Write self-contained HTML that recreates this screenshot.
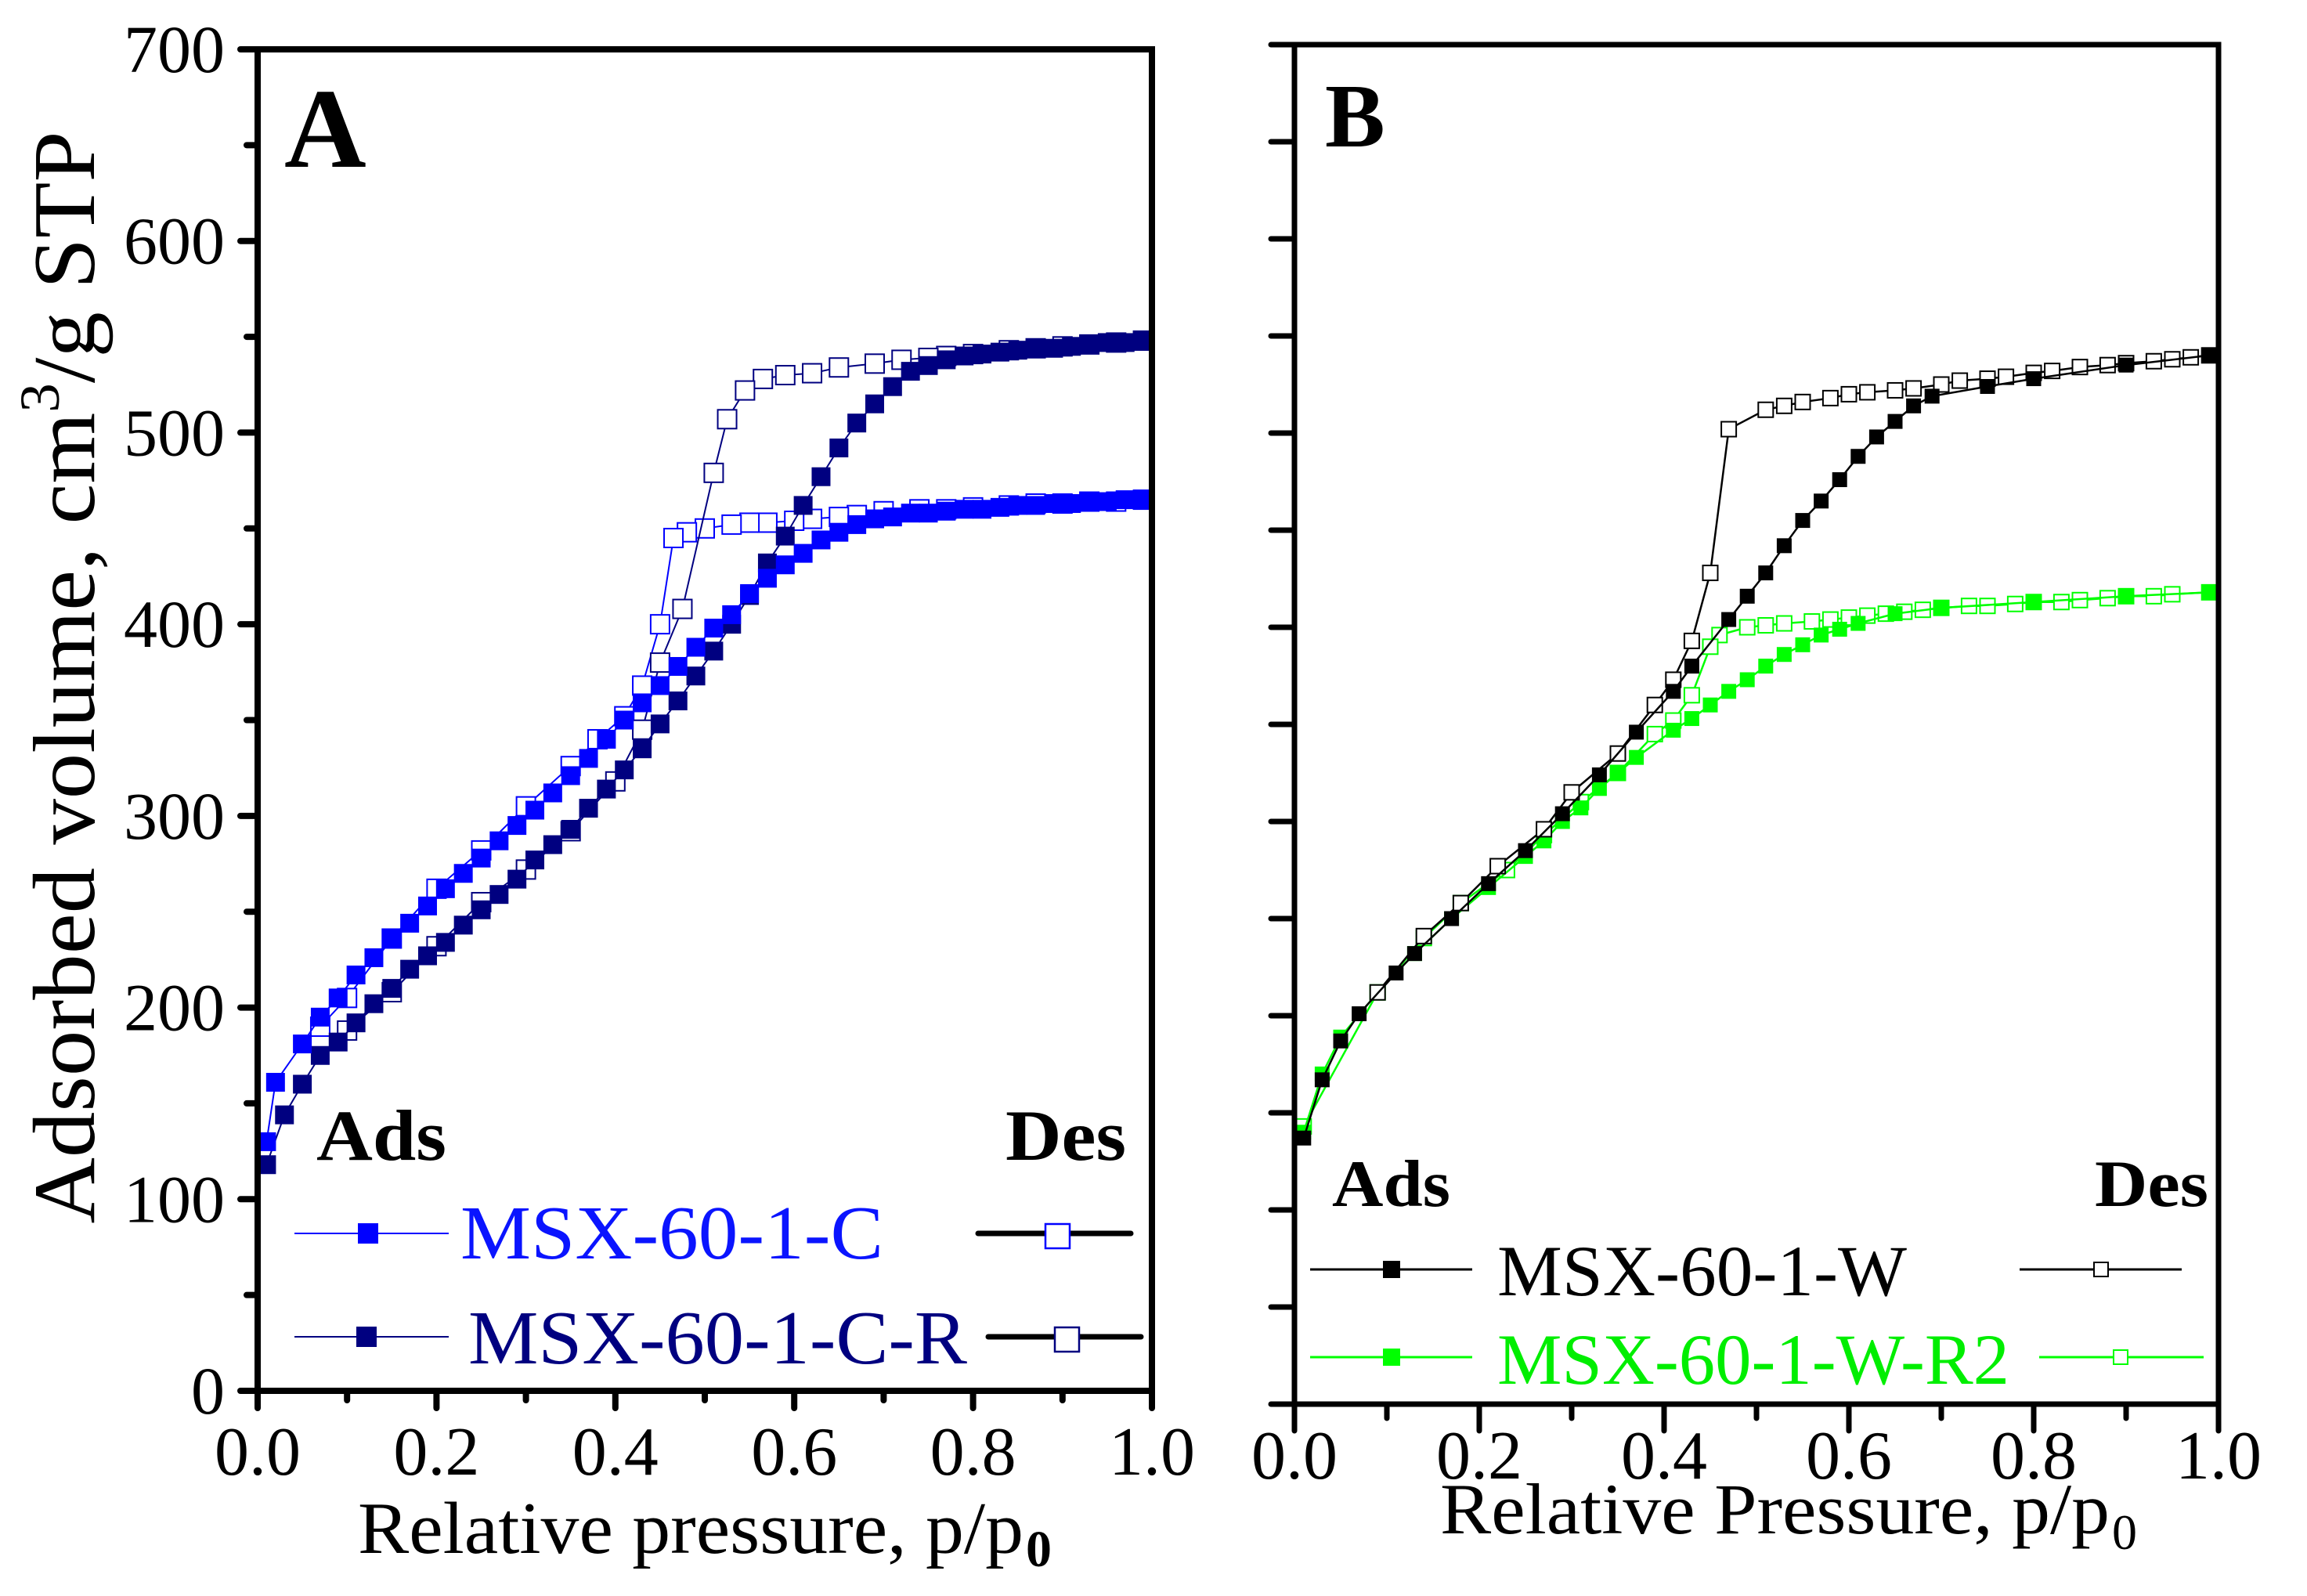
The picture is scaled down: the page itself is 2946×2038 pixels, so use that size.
<!DOCTYPE html>
<html><head><meta charset="utf-8"><style>
html,body{margin:0;padding:0;background:#fff;}
svg{display:block;font-family:"Liberation Serif",serif;}
</style></head><body>
<svg id="chart" width="2946" height="2038" viewBox="0 0 2946 2038" xmlns="http://www.w3.org/2000/svg">
<g id="panelA"></g>
<g id="panelB"></g>
<g>
<text transform="translate(120,865) rotate(-90)" text-anchor="middle" font-size="112" textLength="1395" lengthAdjust="spacingAndGlyphs">Adsorbed volume, cm<tspan font-size="72" dy="-45">3</tspan><tspan dy="45">/g STP</tspan></text>
<text x="363" y="213" font-size="145" font-weight="bold">A</text>
<text x="1692" y="187" font-size="115" font-weight="bold">B</text>
<text x="457" y="1983" font-size="94" textLength="850" lengthAdjust="spacingAndGlyphs">Relative pressure, p/p</text>
<text x="1310" y="2000" font-size="66" font-weight="bold">0</text>
<text x="1839" y="1958" font-size="92" textLength="855" lengthAdjust="spacingAndGlyphs">Relative Pressure, p/p</text>
<text x="2697" y="1978" font-size="64">0</text>
<text x="404" y="1481" font-size="92" font-weight="bold" textLength="166" lengthAdjust="spacingAndGlyphs">Ads</text>
<text x="1284" y="1481" font-size="92" font-weight="bold" textLength="154" lengthAdjust="spacingAndGlyphs">Des</text>
<text x="1701" y="1540" font-size="85" font-weight="bold" textLength="151" lengthAdjust="spacingAndGlyphs">Ads</text>
<text x="2675" y="1540" font-size="85" font-weight="bold" textLength="145" lengthAdjust="spacingAndGlyphs">Des</text>
</g>
<g>
<g>
<line x1="376" y1="1575" x2="573" y2="1575" stroke="#0000ff" stroke-width="2"/>
<rect x="457" y="1562" width="26" height="26" fill="#0000ff"/>
<text x="588" y="1607" font-size="98" fill="#0a14ff" textLength="540" lengthAdjust="spacingAndGlyphs">MSX-60-1-C</text>
<line x1="1249" y1="1575" x2="1444" y2="1575" stroke="#000" stroke-width="7" stroke-linecap="round"/>
<rect x="1335" y="1563" width="31" height="31" fill="#fff" stroke="#0000ff" stroke-width="2.5"/>
</g>
<g>
<line x1="376" y1="1707" x2="573" y2="1707" stroke="#000080" stroke-width="2"/>
<rect x="455" y="1694" width="26" height="26" fill="#000080"/>
<text x="598" y="1741" font-size="98" fill="#000080" textLength="637" lengthAdjust="spacingAndGlyphs">MSX-60-1-C-R</text>
<line x1="1262" y1="1707" x2="1457" y2="1707" stroke="#000" stroke-width="7" stroke-linecap="round"/>
<rect x="1347" y="1695" width="31" height="31" fill="#fff" stroke="#000080" stroke-width="2.5"/>
</g>
</g>
<g>
<g>
<line x1="1673" y1="1621" x2="1880" y2="1621" stroke="#000" stroke-width="3"/>
<rect x="1766" y="1610" width="22" height="22" fill="#000"/>
<text x="1912" y="1654" font-size="92" fill="#000" textLength="523" lengthAdjust="spacingAndGlyphs">MSX-60-1-W</text>
<line x1="2579" y1="1621" x2="2786" y2="1621" stroke="#000" stroke-width="3"/>
<rect x="2674" y="1612" width="18" height="18" fill="#fff" stroke="#000" stroke-width="2"/>
</g>
<g>
<line x1="1673" y1="1733" x2="1880" y2="1733" stroke="#00ff00" stroke-width="3"/>
<rect x="1766" y="1722" width="22" height="22" fill="#00ff00"/>
<text x="1912" y="1767" font-size="92" fill="#00ee00" textLength="654" lengthAdjust="spacingAndGlyphs">MSX-60-1-W-R2</text>
<line x1="2604" y1="1733" x2="2814" y2="1733" stroke="#00ff00" stroke-width="3"/>
<rect x="2699" y="1724" width="18" height="18" fill="#fff" stroke="#00ff00" stroke-width="2"/>
</g>
</g>
</svg>
<script>
// Panel A data
const aXTicks = [0, 0.2, 0.4, 0.6, 0.8, 1.0];
const aXTickLabels = ["0.0", "0.2", "0.4", "0.6", "0.8", "1.0"];
const aYTicks = [0, 100, 200, 300, 400, 500, 600, 700];
const aYTickLabels = ["0", "100", "200", "300", "400", "500", "600", "700"];
const cAdsP = [0.01,0.02,0.05,0.07,0.09,0.11,0.13,0.15,0.17,0.19,0.21,0.23,0.25,0.27,0.29,0.31,0.33,0.35,0.37,0.39,0.41,0.43,0.45,0.47,0.49,0.51,0.53,0.55,0.57,0.59,0.61,0.63,0.65,0.67,0.69,0.71,0.73,0.75,0.77,0.79,0.81,0.83,0.85,0.87,0.89,0.91,0.93,0.95,0.97,0.99];
const cAdsV = [130,161,181,195,205,217,226,236,244,253,262,270,278,287,295,303,312,321,330,340,350,359,368,378,388,398,405,416,424,431,437,444,448,452,455,456,458,458,459,460,460,461,462,462,463,463,464,464,465,465];
const cDesP = [0.99,0.96,0.93,0.9,0.87,0.84,0.8,0.77,0.74,0.7,0.67,0.65,0.62,0.6,0.57,0.55,0.53,0.5,0.48,0.465,0.45,0.43,0.41,0.38,0.35,0.30,0.25,0.20,0.15,0.10,0.07];
const cDesV = [465,464,464,463,463,462,461,460,460,459,457,456,455,454,453,453,452,450,448,445,400,368,352,340,326,305,282,262,236,205,190];
const crAdsP = [0.01,0.03,0.05,0.07,0.09,0.11,0.13,0.15,0.17,0.19,0.21,0.23,0.25,0.27,0.29,0.31,0.33,0.35,0.37,0.39,0.41,0.43,0.45,0.47,0.49,0.51,0.53,0.55,0.57,0.59,0.61,0.63,0.65,0.67,0.69,0.71,0.73,0.75,0.77,0.79,0.81,0.83,0.85,0.87,0.89,0.91,0.93,0.95,0.97,0.99];
const crAdsV = [118,144,160,175,182,192,202,210,220,227,234,243,251,259,267,277,285,293,304,314,324,335,348,360,373,386,400,415,432,446,462,477,492,505,515,524,532,535,538,540,541,542,543,544,544,545,546,547,547,548];
const crDesP = [0.99,0.96,0.93,0.9,0.87,0.84,0.8,0.77,0.75,0.72,0.69,0.65,0.62,0.59,0.565,0.545,0.525,0.51,0.475,0.45,0.43,0.40,0.35,0.30,0.25,0.20,0.15,0.10];
const crDesV = [548,547,546,545,544,543,541,540,539,538,536,534,531,530,528,522,507,479,408,380,345,318,292,272,255,232,208,188];
// Panel B data
const bXTicks = [0, 0.2, 0.4, 0.6, 0.8, 1.0];
const bXTickLabels = ["0.0", "0.2", "0.4", "0.6", "0.8", "1.0"];
const wAdsP = [0.01,0.03,0.05,0.07,0.11,0.13,0.17,0.21,0.25,0.29,0.33,0.37,0.41,0.43,0.47,0.49,0.51,0.53,0.55,0.57,0.59,0.61,0.63,0.65,0.67,0.69,0.75,0.80,0.90,0.99];
const wAdsV = [137,167,187,201,222,232,250,268,285,304,324,346,367,380,404,416,428,442,455,465,476,488,498,506,514,519,524,528,535,540];
const wDesP = [0.99,0.97,0.95,0.93,0.9,0.88,0.85,0.82,0.8,0.77,0.75,0.72,0.7,0.67,0.65,0.62,0.6,0.58,0.55,0.53,0.51,0.47,0.45,0.43,0.41,0.39,0.35,0.30,0.27,0.22,0.18,0.14,0.09];
const wDesV = [540,539,538,537,536,535,534,532,531,529,528,527,525,523,522,521,520,518,516,514,512,502,428,393,373,360,335,315,296,277,258,241,212];
const grAdsP = [0.01,0.03,0.05,0.09,0.13,0.17,0.21,0.25,0.27,0.29,0.31,0.33,0.35,0.37,0.41,0.43,0.45,0.47,0.49,0.51,0.53,0.55,0.57,0.59,0.61,0.65,0.70,0.80,0.90,0.99];
const grAdsV = [140,170,189,212,232,250,266,282,290,300,307,317,325,333,347,353,360,367,373,380,386,391,396,399,402,407,410,413,416,418];
const grDesP = [0.99,0.95,0.93,0.9,0.88,0.85,0.83,0.8,0.78,0.75,0.73,0.7,0.68,0.66,0.64,0.62,0.6,0.58,0.56,0.53,0.51,0.49,0.46,0.45,0.43,0.41,0.39,0.35,0.31,0.27,0.23,0.18,0.14,0.09,0.01];
const grDesV = [418,417,416,416,415,414,413,413,412,411,411,410,409,408,407,406,405,404,403,402,401,400,396,390,365,352,345,325,310,293,275,258,240,212,143];

const NS = "http://www.w3.org/2000/svg";
function mk(parent, tag, attrs) {
  const e = document.createElementNS(NS, tag);
  for (const k in attrs) e.setAttribute(k, attrs[k]);
  parent.appendChild(e);
  return e;
}
function axisFns(x0, x1, yBot, yTop, vmax) {
  return { x: p => x0 + p * (x1 - x0), y: v => yBot - v / vmax * (yBot - yTop) };
}
function drawSeries(g, fx, fy, P, V, color, filled, size, lw, name) {
  const sg = mk(g, "g", {});
  
  
  const pts = P.map((p, i) => fx(p).toFixed(1) + "," + fy(V[i]).toFixed(1)).join(" ");
  const pl = mk(sg, "polyline", { points: pts, fill: "none", stroke: color, "stroke-width": lw });
  
  
  P.forEach((p, i) => {
    const r = mk(sg, "rect", { x: fx(p) - size / 2, y: fy(V[i]) - size / 2, width: size, height: size,
      fill: filled ? color : "#fff", stroke: color, "stroke-width": filled ? 0 : 2 });
    
    
  });
}

// Panel A
(function () {
  const g = document.getElementById("panelA");
  const X0 = 329, X1 = 1471, YB = 1776, YT = 63;
  const ax = axisFns(X0, X1, YB, YT, 700);
  drawSeries(g, ax.x, ax.y, cDesP, cDesV, "#0000ff", false, 24, 2, "series-msx-60-1-c-des");
  drawSeries(g, ax.x, ax.y, crDesP, crDesV, "#000080", false, 24, 2, "series-msx-60-1-c-r-des");
  drawSeries(g, ax.x, ax.y, crAdsP, crAdsV, "#000080", true, 24, 2, "series-msx-60-1-c-r-ads");
  drawSeries(g, ax.x, ax.y, cAdsP, cAdsV, "#0000ff", true, 24, 2, "series-msx-60-1-c-ads");
  const fr = mk(g, "rect", { x: X0, y: YT, width: X1 - X0, height: YB - YT, fill: "none", stroke: "#000", "stroke-width": 8 });
  
  
  for (let v = 0; v <= 700; v += 50) {
    const major = v % 100 === 0;
    const t = mk(g, "line", { x1: X0 - (major ? 22 : 14), x2: X0, y1: ax.y(v), y2: ax.y(v), stroke: "#000", "stroke-width": 8, "stroke-linecap": "round" });
    
    
  }
  aYTicks.forEach((v, i) => {
    const t = mk(g, "text", { x: 287, y: ax.y(v) + 29, "text-anchor": "end", "font-size": 86 });
    t.textContent = aYTickLabels[i];
    
    
  });
  for (let k = 0; k <= 10; k++) {
    const p = k / 10, major = k % 2 === 0;
    const t = mk(g, "line", { x1: ax.x(p), x2: ax.x(p), y1: YB, y2: YB + (major ? 22 : 12), stroke: "#000", "stroke-width": 8, "stroke-linecap": "round" });
    
    
  }
  aXTicks.forEach((p, i) => {
    const t = mk(g, "text", { x: ax.x(p), y: 1883, "text-anchor": "middle", "font-size": 88 });
    t.textContent = aXTickLabels[i];
    
    
  });
})();

// Panel B
(function () {
  const g = document.getElementById("panelB");
  const X0 = 1653, X1 = 2833, YB = 1793, YT = 57;
  const ax = axisFns(X0, X1, YB, YT, 700);
  drawSeries(g, ax.x, ax.y, grDesP, grDesV, "#00ff00", false, 19, 2.5, "series-msx-60-1-w-r2-des");
  drawSeries(g, ax.x, ax.y, grAdsP, grAdsV, "#00ff00", true, 19, 2.5, "series-msx-60-1-w-r2-ads");
  drawSeries(g, ax.x, ax.y, wDesP, wDesV, "#000000", false, 19, 2.5, "series-msx-60-1-w-des");
  drawSeries(g, ax.x, ax.y, wAdsP, wAdsV, "#000000", true, 19, 2.5, "series-msx-60-1-w-ads");
  const fr = mk(g, "rect", { x: X0, y: YT, width: X1 - X0, height: YB - YT, fill: "none", stroke: "#000", "stroke-width": 7 });
  
  
  for (let v = 0; v <= 700; v += 50) {
    const t = mk(g, "line", { x1: X0 - 30, x2: X0, y1: ax.y(v), y2: ax.y(v), stroke: "#000", "stroke-width": 7, "stroke-linecap": "round" });
    
    
  }
  for (let k = 0; k <= 10; k++) {
    const p = k / 10, major = k % 2 === 0;
    const t = mk(g, "line", { x1: ax.x(p), x2: ax.x(p), y1: YB, y2: YB + (major ? 34 : 18), stroke: "#000", "stroke-width": 7, "stroke-linecap": "round" });
    
    
  }
  bXTicks.forEach((p, i) => {
    const t = mk(g, "text", { x: ax.x(p), y: 1888, "text-anchor": "middle", "font-size": 88 });
    t.textContent = bXTickLabels[i];
    
    
  });
})();
</script>
</body></html>
